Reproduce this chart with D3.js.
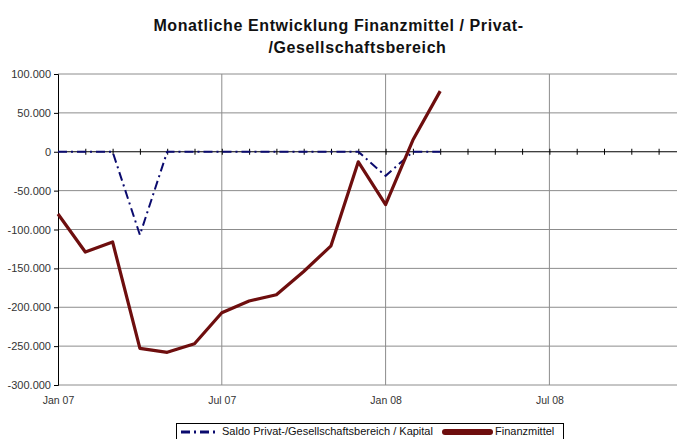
<!DOCTYPE html>
<html><head><meta charset="utf-8">
<script src="https://cdn.jsdelivr.net/npm/d3@7"></script>
<style>body{margin:0;background:#fff;overflow:hidden}svg{display:block;font-family:"Liberation Sans",Arial,sans-serif}</style>
</head><body><div id="chart"></div>
<script>
const months = ["Jan 07","Feb 07","Mar 07","Apr 07","May 07","Jun 07","Jul 07","Aug 07","Sep 07","Oct 07","Nov 07","Dec 07","Jan 08","Feb 08","Mar 08"];
const finanzmittel = [-80000,-129000,-116000,-253000,-258000,-247000,-207000,-192000,-184000,-154000,-121000,-13000,-68000,15000,78000];
const saldo = [0,0,0,-107000,0,0,0,0,0,0,0,0,-31000,0,0];
const xLabels = ["Jan 07","Jul 07","Jan 08","Jul 08"];
const xLabelIdx = [0,6,12,18];
const yTicks = [100000,50000,0,-50000,-100000,-150000,-200000,-250000,-300000];
const seriesNames = ["Saldo Privat-/Gesellschaftsbereich / Kapital","Finanzmittel"];
const titleLines = ["Monatliche Entwicklung Finanzmittel / Privat-","/Gesellschaftsbereich"];

const W=677,H=439;
const svg=d3.select("#chart").append("svg").attr("width",W).attr("height",H);
const loc=d3.formatLocale({decimal:",",thousands:".",grouping:[3],currency:["",""],minus:"-"});
const fmt=loc.format(",");

const x=d3.scaleLinear().domain([0,23]).range([58,58+23*27.3]);
const y=d3.scaleLinear().domain([-300000,100000]).range([385,74]);
const xRight=W+5;

// title
svg.append("text").attr("x",338.5).attr("y",31).attr("text-anchor","middle")
  .attr("font-size",16).attr("font-weight","bold").attr("letter-spacing",0.6).attr("fill","#111").text(titleLines[0]);
svg.append("text").attr("x",357.5).attr("y",53).attr("text-anchor","middle")
  .attr("font-size",16).attr("font-weight","bold").attr("letter-spacing",0.6).attr("fill","#111").text(titleLines[1]);

// horizontal gridlines
svg.append("g").selectAll("line").data(yTicks.filter(v=>v!==0)).join("line")
  .attr("x1",x(0)).attr("x2",xRight).attr("y1",d=>y(d)).attr("y2",d=>y(d))
  .attr("stroke","#8c8c8c").attr("stroke-width",1);
// vertical gridlines
svg.append("g").selectAll("line").data(xLabelIdx.slice(1)).join("line")
  .attr("x1",d=>x(d)).attr("x2",d=>x(d)).attr("y1",y(100000)).attr("y2",y(-300000))
  .attr("stroke","#8c8c8c").attr("stroke-width",1);

// y axis
const yAxis=d3.axisLeft(y).tickValues(yTicks).tickFormat(fmt).tickSize(4).tickPadding(3);
const gy=svg.append("g").attr("transform",`translate(${x(0)},0)`).call(yAxis);
gy.select(".domain").attr("stroke","#000");
gy.selectAll(".tick line").attr("stroke","#000");
gy.selectAll("text").attr("font-size",11).attr("fill","#333").attr("font-family","Liberation Sans, Arial, sans-serif");

// x axis on zero line with monthly cross ticks
const xAxis=d3.axisBottom(x).tickValues(d3.range(0,24)).tickFormat("").tickSizeInner(3).tickSizeOuter(0);
const gx=svg.append("g").attr("transform",`translate(0,${y(0)})`).call(xAxis);
gx.select(".domain").attr("d",`M${x(0)},0H${xRight}`).attr("stroke","#000");
gx.selectAll(".tick line").attr("y1",-3).attr("y2",3).attr("stroke","#000");

// x labels at bottom
const xLab=d3.axisBottom(x).tickValues(xLabelIdx).tickFormat((d,i)=>xLabels[i]).tickSize(0).tickPadding(12);
const gl=svg.append("g").attr("transform",`translate(0,${y(-300000)})`).call(xLab);
gl.select(".domain").remove();
gl.selectAll("text").attr("font-size",10.5).attr("fill","#333").attr("font-family","Liberation Sans, Arial, sans-serif");

// lines
const line=d3.line().x((d,i)=>x(i)).y(d=>y(d));
svg.append("path").datum(saldo).attr("d",line).attr("fill","none")
  .attr("stroke","#0a0a6e").attr("stroke-width",2).attr("stroke-dasharray","9,4,2,4");
svg.append("path").datum(finanzmittel).attr("d",line).attr("fill","none")
  .attr("stroke","#6e0e0e").attr("stroke-width",3.2).attr("stroke-linejoin","round");

// legend
const lg=svg.append("g");
lg.append("rect").attr("x",176.5).attr("y",423.5).attr("width",387).attr("height",20)
  .attr("fill","#fff").attr("stroke","#000").attr("stroke-width",1);
lg.append("line").attr("x1",181).attr("x2",219).attr("y1",432).attr("y2",432)
  .attr("stroke","#0a0a6e").attr("stroke-width",3).attr("stroke-dasharray","9,4,2,4");
lg.append("text").attr("x",222).attr("y",435).attr("font-size",11).attr("fill","#111").text(seriesNames[0]);
lg.append("line").attr("x1",445).attr("x2",490).attr("y1",432).attr("y2",432)
  .attr("stroke","#6e0e0e").attr("stroke-width",6).attr("stroke-linecap","round");
lg.append("text").attr("x",495).attr("y",435).attr("font-size",11).attr("fill","#111").text(seriesNames[1]);
</script></body></html>
